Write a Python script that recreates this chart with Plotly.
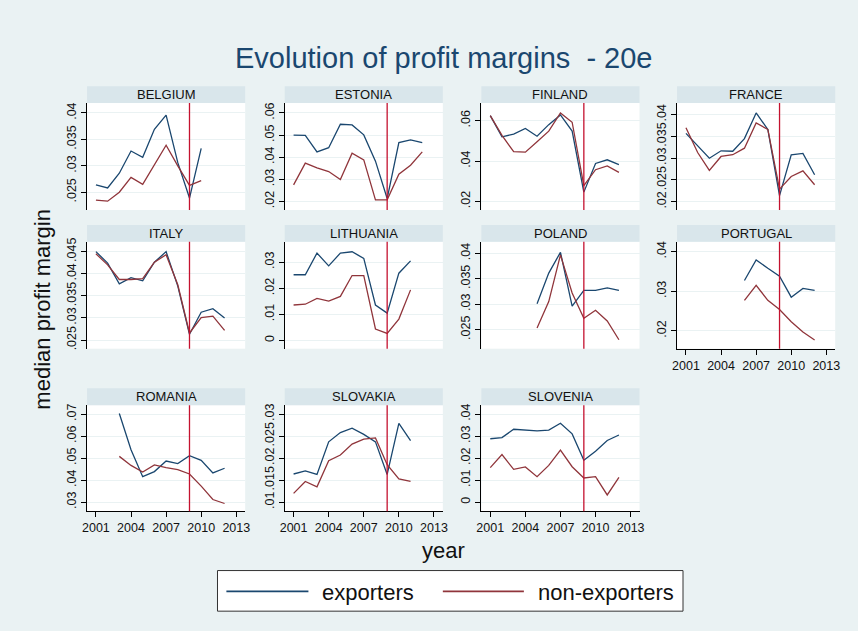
import plotly.graph_objects as go

# years 2001..2012, None where a country has no observation
years = list(range(2001, 2013))

countries = ["BELGIUM", "ESTONIA", "FINLAND", "FRANCE",
             "ITALY", "LITHUANIA", "POLAND", "PORTUGAL",
             "ROMANIA", "SLOVAKIA", "SLOVENIA"]

belgium_exp = [.0264, .0258, .0286, .0328, .0316, .0369, .0396, .0306, .0239, .0333, None, None]
belgium_non = [.0235, .0233, .0250, .0278, .0265, .0301, .0339, .0300, .0263, .0272, None, None]

estonia_exp = [.0500, .0499, .0424, .0443, .0549, .0546, .0501, .0382, .0213, .0466, .0478, .0466]
estonia_non = [.0275, .0373, .0352, .0335, .0299, .0418, .0388, .0207, .0207, .0323, .0364, .0424]

finland_exp = [.0625, .0520, .0533, .0561, .0523, .0580, .0628, .0548, .0246, .0388, .0406, .0382]
finland_non = [.0625, .0527, .0446, .0444, .0495, .0548, .0638, .0592, .0278, .0357, .0376, .0344]

france_exp = [.0357, .0328, .0300, .0317, .0316, .0345, .0404, .0366, .0214, .0308, .0311, .0262]
france_non = [.0370, .0313, .0272, .0304, .0308, .0323, .0381, .0366, .0229, .0258, .0271, .0239]

italy_exp = [.0450, .0424, .0377, .0391, .0384, .0426, .0450, .0372, .0263, .0313, .0321, .0300]
italy_non = [.0445, .0420, .0387, .0387, .0389, .0426, .0443, .0375, .0266, .0301, .0304, .0272]

lithuania_exp = [.0252, .0252, .0335, .0286, .0335, .0340, .0315, .0136, .0105, .0258, .0305, None]
lithuania_non = [.0136, .0139, .0161, .0151, .0169, .0249, .0249, .0044, .0027, .0082, .0194, None]

poland_exp = [None, None, None, None, .0301, .0361, .0402, .0296, .0327, .0327, .0332, .0327]
poland_non = [None, None, None, None, .0253, .0305, .0397, .0322, .0272, .0288, .0267, .0230]

portugal_exp = [None, None, None, None, None, .0327, .0379, .0358, .0338, .0285, .0307, .0302]
portugal_non = [None, None, None, None, None, .0277, .0315, .0277, .0254, .0223, .0197, .0177]

romania_exp = [None, None, .0703, .0538, .0416, .0439, .0487, .0475, .0511, .0490, .0433, .0454]
romania_non = [None, None, .0508, .0467, .0437, .0469, .0457, .0448, .0428, .0373, .0312, .0294]

slovakia_exp = [.0164, .0171, .0163, .0237, .0258, .0268, .0254, .0237, .0163, .0279, .0240, None]
slovakia_non = [.0120, .0147, .0135, .0194, .0207, .0232, .0243, .0246, .0185, .0153, .0147, None]

slovenia_exp = [.0288, .0293, .0331, .0327, .0324, .0327, .0358, .0310, .0190, .0231, .0280, .0305]
slovenia_non = [.0157, .0216, .0149, .0160, .0116, .0167, .0236, .0161, .0110, .0116, .0033, .0113]

# y ticks shown on each panel
belgium_ticks = [.025, .03, .035, .04]
estonia_ticks = [.02, .03, .04, .05, .06]
finland_ticks = [.02, .04, .06]
france_ticks = [.02, .025, .03, .035, .04]
italy_ticks = [.025, .03, .035, .04, .045]
lithuania_ticks = [0, .01, .02, .03]
poland_ticks = [.025, .03, .035, .04]
portugal_ticks = [.02, .03, .04]
romania_ticks = [.03, .04, .05, .06, .07]
slovakia_ticks = [.01, .015, .02, .025, .03]
slovenia_ticks = [0, .01, .02, .03, .04]

year_ticks = [2001, 2004, 2007, 2010, 2013]
crisis_year = 2009

exporters = [belgium_exp, estonia_exp, finland_exp, france_exp, italy_exp, lithuania_exp,
             poland_exp, portugal_exp, romania_exp, slovakia_exp, slovenia_exp]
non_exporters = [belgium_non, estonia_non, finland_non, france_non, italy_non, lithuania_non,
                 poland_non, portugal_non, romania_non, slovakia_non, slovenia_non]
y_ticks = [belgium_ticks, estonia_ticks, finland_ticks, france_ticks, italy_ticks, lithuania_ticks,
           poland_ticks, portugal_ticks, romania_ticks, slovakia_ticks, slovenia_ticks]

# axis ranges
y_ranges = [(.02163, .04188), (.0161, .0645), (.01574, .0687), (.01811, .04266),
            (.02305, .04724), (-.00315, .03786), (.02124, .04228), (.0155, .0425),
            (.02594, .07406), (.00797, .03203), (-.00403, .04403)]
x_range = [2000.24, 2013.76]
with_years = {"PORTUGAL", "ROMANIA", "SLOVAKIA", "SLOVENIA"}

W, H = 858, 631
BG = "#EAF2F3"
STRIP = "#D9E6EB"
BLUE = "#1A476F"
RED = "#90353B"
VLINE = "#C4122F"
FONT = "Liberation Sans, Arial, sans-serif"

col_x = [83, 283, 482, 680]
panel_w = 160
row_top = [100, 240, 405]
panel_h = [108, 108, 107]
strip_h = 17


def stata_label(v):
    if v == 0:
        return "0"
    return ("%g" % v).lstrip("0")


def px(x):
    return x / W


def py(y):
    return 1 - y / H


def text_at(text, x, y, size, color="#111", **kw):
    return dict(text=text, x=px(x), y=py(y), xref="paper", yref="paper", showarrow=False,
                xanchor=kw.pop("xanchor", "center"), yanchor="middle",
                font=dict(family=FONT, size=size, color=color), **kw)


fig = go.Figure()
shapes = []
annotations = []
layout = {}

for i, country in enumerate(countries):
    k = i + 1
    r, c = divmod(i, 4)
    x0 = col_x[c]
    top = row_top[r]
    h = panel_h[r]
    xa = "x" if k == 1 else "x%d" % k
    ya = "y" if k == 1 else "y%d" % k

    fig.add_trace(go.Scatter(x=years, y=exporters[i], mode="lines", xaxis=xa, yaxis=ya,
                             line=dict(color=BLUE, width=1.3), showlegend=False))
    fig.add_trace(go.Scatter(x=years, y=non_exporters[i], mode="lines", xaxis=xa, yaxis=ya,
                             line=dict(color=RED, width=1.3), showlegend=False))

    show_x = country in with_years
    layout["xaxis" if k == 1 else "xaxis%d" % k] = dict(
        domain=[px(x0), px(x0 + panel_w)], range=x_range, anchor=ya,
        showgrid=False, zeroline=False,
        showline=show_x, linecolor="black", linewidth=1,
        ticks="outside" if show_x else "", ticklen=5, tickcolor="black",
        tickvals=year_ticks, showticklabels=show_x,
        tickfont=dict(family=FONT, size=12.5, color="#111"),
    )
    layout["yaxis" if k == 1 else "yaxis%d" % k] = dict(
        domain=[py(top + h), py(top)], range=list(y_ranges[i]), anchor=xa,
        showgrid=True, gridcolor=BG, gridwidth=1, zeroline=False,
        showline=True, linecolor="black", linewidth=1,
        ticks="outside", ticklen=5, tickcolor="black",
        tickvals=y_ticks[i], ticktext=[stata_label(v) for v in y_ticks[i]],
        tickangle=-90, tickfont=dict(family=FONT, size=12.5, color="#111"),
    )

    # 2009 reference line
    shapes.append(dict(type="line", xref=xa, yref=ya + " domain", x0=crisis_year, x1=crisis_year,
                       y0=0, y1=1, line=dict(color=VLINE, width=1.3)))
    # panel strip
    shapes.append(dict(type="rect", xref="paper", yref="paper", x0=px(x0), x1=px(x0 + panel_w),
                       y0=py(top), y1=py(top - strip_h), fillcolor=STRIP, line=dict(width=0),
                       layer="below"))
    annotations.append(text_at(country, x0 + panel_w / 2, top - strip_h / 2, 13))

# titles
annotations.append(text_at("Evolution of profit margins &nbsp;- 20e", 444, 55, 29, BLUE))
annotations.append(text_at("median profit margin", 38, 308, 22, textangle=-90))
annotations.append(text_at("year", 444, 552, 22))

# legend box
shapes.append(dict(type="rect", xref="paper", yref="paper", x0=px(215), x1=px(686),
                   y0=py(613), y1=py(572), fillcolor="white", line=dict(color="#333", width=1)))
shapes.append(dict(type="line", xref="paper", yref="paper", x0=px(224), x1=px(307),
                   y0=py(593), y1=py(593), line=dict(color=BLUE, width=1.6)))
shapes.append(dict(type="line", xref="paper", yref="paper", x0=px(443), x1=px(525),
                   y0=py(593), y1=py(593), line=dict(color=RED, width=1.6)))
annotations.append(text_at("exporters", 319, 594, 22, xanchor="left"))
annotations.append(text_at("non-exporters", 537, 594, 22, xanchor="left"))

fig.update_layout(
    width=W, height=H,
    margin=dict(l=0, r=0, t=0, b=0),
    paper_bgcolor=BG, plot_bgcolor="white",
    shapes=shapes, annotations=annotations,
    **layout,
)

fig.write_html("out.html", config={"displayModeBar": False},
               post_script="document.body.style.margin='0';")
